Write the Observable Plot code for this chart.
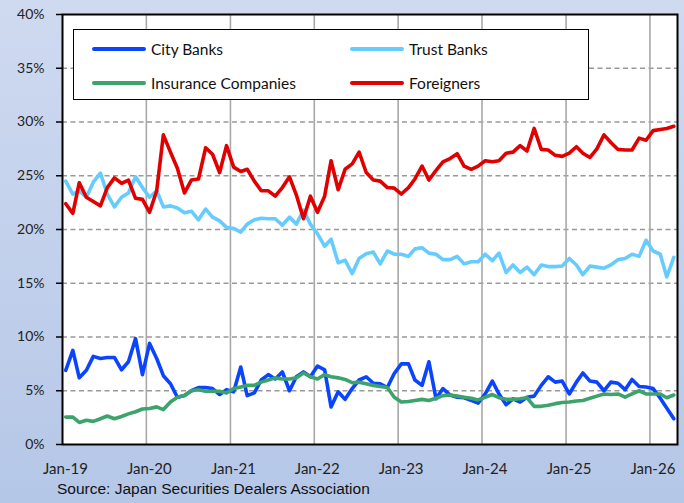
<!DOCTYPE html>
<html><head><meta charset="utf-8">
<script src="https://cdn.jsdelivr.net/npm/d3@7"></script>
<script src="https://cdn.jsdelivr.net/npm/@observablehq/plot@0.6"></script>
<style>
body{margin:0;}
#wrap{position:relative;width:684px;height:503px;background:linear-gradient(#cfdaf0,#b5c7e7);overflow:hidden;font-family:Lato,"Open Sans",sans-serif;}
#chart{position:absolute;left:0;top:0;}
#legend{position:absolute;left:73px;top:29px;width:516px;height:71px;box-sizing:border-box;border:1.6px solid #000;background:#fff;}
.item{position:absolute;height:20px;font-size:15.5px;color:#111;display:flex;align-items:center;white-space:nowrap}
.sw{display:inline-block;width:54px;height:4px;border-radius:2px;margin-right:5px}
#source{position:absolute;left:57px;top:481px;line-height:16px;font-size:15.5px;font-family:"Liberation Sans",Arial,sans-serif;color:#111;white-space:nowrap}
</style></head>
<body>
<div id="wrap">
  <div id="chart"></div>
  <div id="legend"></div>
  <div id="source">Source: Japan Securities Dealers Association</div>
</div>
<script>
// Series names and colours
const seriesNames = ["City Banks", "Trust Banks", "Insurance Companies", "Foreigners"];
const seriesColors = ["#0a44ff", "#66ccff", "#3ca36c", "#e00000"];

// Monthly values (%), Jan-2019 .. Apr-2026
const cityBanks = [6.9,8.75,6.2,6.9,8.2,8.0,8.1,8.1,6.95,7.7,9.85,6.5,9.4,8.0,6.4,5.65,4.4,4.55,5.0,5.3,5.3,5.2,4.65,5.1,4.9,7.2,4.55,4.8,6.0,6.5,6.1,6.75,5.0,6.3,6.75,6.3,7.3,6.95,3.5,4.9,4.2,5.2,6.0,6.3,5.7,5.65,5.3,6.6,7.5,7.5,6.0,5.5,7.7,4.25,5.2,4.6,4.4,4.35,4.1,3.85,4.7,5.9,4.7,3.7,4.25,3.95,4.4,4.5,5.5,6.3,5.8,5.9,4.7,5.8,6.65,5.9,5.8,5.0,5.8,5.7,5.1,6.05,5.4,5.35,5.2,4.3,3.4,2.4];
const trustBanks = [24.5,23.3,23.6,23.0,24.4,25.25,23.3,22.1,23.0,23.4,24.9,23.9,23.0,23.6,22.1,22.2,22.0,21.55,21.7,20.9,21.9,21.15,20.8,20.2,20.1,19.75,20.5,20.9,21.05,21.0,21.0,20.4,21.15,20.5,21.8,20.5,19.6,18.45,19.1,16.9,17.15,15.9,17.3,17.75,17.9,16.8,18.0,17.7,17.7,17.5,18.2,18.3,17.8,17.7,17.2,17.2,17.5,16.8,17.0,17.0,17.7,17.1,17.8,16.0,16.7,16.0,16.5,15.8,16.7,16.55,16.55,16.6,17.3,16.7,15.8,16.6,16.5,16.4,16.7,17.2,17.3,17.7,17.5,19.0,18.0,17.7,15.6,17.4];
const insurance = [2.55,2.55,2.05,2.25,2.15,2.4,2.65,2.4,2.6,2.85,3.05,3.3,3.35,3.5,3.25,3.95,4.4,4.55,5.0,5.1,4.95,4.95,4.95,4.8,5.2,5.35,5.5,5.5,5.8,6.0,6.2,6.1,6.1,6.2,6.65,6.3,6.1,6.5,6.3,6.2,6.05,5.75,5.8,5.65,5.5,5.4,5.3,4.4,3.95,4.0,4.1,4.2,4.1,4.3,4.55,4.6,4.5,4.4,4.3,4.15,4.4,4.65,4.35,4.2,4.2,4.25,4.35,3.55,3.55,3.65,3.8,3.9,3.95,4.05,4.1,4.3,4.5,4.7,4.65,4.7,4.4,4.7,5.0,4.7,4.7,4.7,4.35,4.6];
const foreigners = [22.4,21.5,24.35,23.0,22.6,22.2,23.9,24.8,24.3,24.6,22.9,22.8,21.6,23.6,28.8,27.2,25.7,23.4,24.6,24.7,27.6,27.0,25.3,27.8,25.8,25.4,25.6,24.5,23.6,23.6,23.1,23.9,24.9,23.2,21.0,23.1,21.6,23.1,26.4,23.7,25.6,26.1,27.2,25.3,24.6,24.5,23.9,23.85,23.3,23.9,24.7,25.9,24.6,25.5,26.3,26.6,27.05,25.9,25.6,25.9,26.4,26.3,26.4,27.1,27.2,27.8,27.3,29.4,27.45,27.4,26.9,26.8,27.1,27.7,27.1,26.7,27.5,28.8,28.1,27.45,27.4,27.4,28.5,28.3,29.2,29.3,29.4,29.6];

// Tick values
const yTicks = [0,5,10,15,20,25,30,35,40];
const yGrid = [5,10,15,20,25,30,35];
const xTickYears = [2019,2020,2021,2022,2023,2024,2025,2026];

// Build table (mid-month dates)
const months = d3.utcMonth.range(new Date(Date.UTC(2019,0,1)), new Date(Date.UTC(2026,4,1)));
const allSeries = [cityBanks, trustBanks, insurance, foreigners];
const rows = [];
allSeries.forEach((vals, s) => vals.forEach((v, i) => {
  const m = months[i];
  rows.push({date: new Date(Date.UTC(m.getUTCFullYear(), m.getUTCMonth(), 15)), value: v, series: seriesNames[s]});
}));
const xTicks = xTickYears.map(y => new Date(Date.UTC(y,0,1)));
const xGrid = xTicks.slice(1);

const chart = Plot.plot({
  width: 684, height: 503,
  marginLeft: 62, marginRight: 7, marginTop: 14, marginBottom: 59,
  style: {background: "transparent", fontFamily: "Lato, 'Open Sans', sans-serif", color: "#222", overflow: "visible"},
  x: {type: "utc", domain: [new Date(Date.UTC(2019,0,1)), new Date(Date.UTC(2026,4,1))]},
  y: {domain: [0, 40]},
  color: {domain: seriesNames, range: seriesColors},
  marks: [
    Plot.frame({fill: "white", stroke: null}),
    Plot.ruleY(yGrid, {stroke: "#999", strokeWidth: 1.3, strokeDasharray: "5,3.5"}),
    Plot.ruleX(xGrid, {stroke: "#a8a8a8", strokeWidth: 1.6}),
    ...seriesNames.map(name => Plot.line(rows.filter(r => r.series === name), {
      x: "date", y: "value", stroke: "series", strokeWidth: 3.6, strokeLinejoin: "round", strokeLinecap: "round"
    })),
    Plot.frame({stroke: "#000", strokeWidth: 2}),
    Plot.axisY({ticks: yTicks, tickFormat: d => d + "%", tickSize: 6, tickPadding: 12, stroke: "#000", strokeWidth: 1.5, fontSize: 14, label: null}),
    Plot.axisX({ticks: xTicks, tickFormat: d3.utcFormat("%b-%y"), tickSize: 0, tickPadding: 19, fontSize: 15, dx: 3, label: null})
  ]
});
document.getElementById("chart").appendChild(chart);

// Legend (inside plot area)
const legend = document.getElementById("legend");
const pos = [[18, 9], [276, 9], [18, 43], [276, 43]];
seriesNames.forEach((name, i) => {
  const d = document.createElement("div");
  d.className = "item";
  d.style.left = pos[i][0] + "px";
  d.style.top = pos[i][1] + "px";
  d.innerHTML = `<span class="sw" style="background:${seriesColors[i]}"></span>${name}`;
  legend.appendChild(d);
});
</script>
</body></html>
